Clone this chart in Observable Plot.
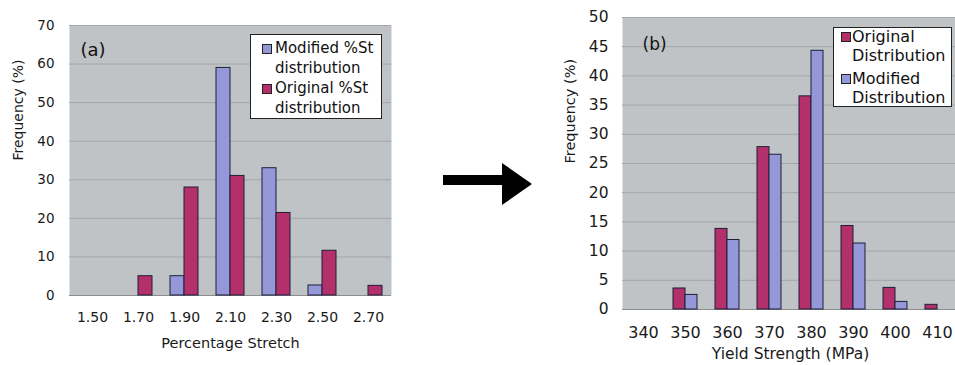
<!DOCTYPE html>
<html><head><meta charset="utf-8">
<script src="https://cdn.jsdelivr.net/npm/d3@7"></script>
<script src="https://cdn.jsdelivr.net/npm/@observablehq/plot@0.6"></script>
<style>
body{margin:0;background:#fff;font-family:"DejaVu Sans",sans-serif;}
#wrap{position:relative;width:955px;height:365px;overflow:hidden;background:#fff;}
#wrap > * {position:absolute;}
.legend{background:#fff;border:1px solid #222;box-sizing:border-box;color:#111;}
.legend .sw{position:absolute;width:10px;height:10px;border:1px solid #222;box-sizing:border-box;}
.legend .tx{position:absolute;white-space:pre;}
</style>
</head><body>
<div id="wrap"></div>
<script>
// ---- data ----
const stretchCats = ["1.50","1.70","1.90","2.10","2.30","2.50","2.70"];
const stretchModified = [0, 0, 5, 59, 33, 2.6, 0];
const stretchOriginal = [0, 5, 28, 31, 21.4, 11.6, 2.5];
const stretchTicks = [0,10,20,30,40,50,60,70];

const yieldCats = ["340","350","360","370","380","390","400","410"];
const yieldOriginal = [0, 3.6, 13.8, 27.8, 36.5, 14.3, 3.7, 0.8];
const yieldModified = [0, 2.5, 11.9, 26.5, 44.3, 11.3, 1.3, 0];
const yieldTicks = [0,5,10,15,20,25,30,35,40,45,50];

const BLUE = "#9497d8", RED = "#b3306a", BG = "#c0c3c6", GRID = "#a3a6a9", EDGE = "#1c1f3a";

const wrap = document.getElementById("wrap");

function rows(cats, vals){ return cats.map((c,i)=>({cat:c, v:vals[i]})).filter(d=>d.v>0); }

// ---- chart (a) ----
const A = Plot.plot({
  width: 420, height: 365,
  marginLeft: 69, marginRight: 29, marginTop: 25, marginBottom: 70,
  style: "font-family:'DejaVu Sans',sans-serif;font-size:13px;color:#1a1a1a;background:transparent",
  x: {domain: stretchCats, paddingInner: 0, paddingOuter: 0},
  y: {domain: [0,70]},
  marks: [
    Plot.frame({fill: BG, stroke: null}),
    Plot.gridY(stretchTicks, {stroke: GRID, strokeOpacity: 1}),
    Plot.ruleY([0], {stroke: "#8a8c8e"}),
    Plot.barY(rows(stretchCats, stretchModified), {x:"cat", y:"v", fill: BLUE, stroke: EDGE, strokeWidth: 1, insetLeft: 9, insetRight: 23}),
    Plot.barY(rows(stretchCats, stretchOriginal), {x:"cat", y:"v", fill: RED, stroke: EDGE, strokeWidth: 1, insetLeft: 23, insetRight: 9}),
    Plot.axisY(stretchTicks, {tickSize: 0, tickPadding: 15, label: null, fontSize: 13.5}),
    Plot.axisX({tickSize: 0, tickPadding: 17, label: null, fontSize: 14}),
    Plot.text(["Frequency (%)"], {frameAnchor: "left", dx: -51, rotate: -90, fontSize: 14, fill: "#1a1a1a"}),
    Plot.text(["Percentage Stretch"], {frameAnchor: "bottom", dy: 52, fontSize: 14.5, fill: "#1a1a1a"}),
    Plot.text(["(a)"], {frameAnchor: "top-left", textAnchor: "start", dx: 11, dy: 18, fontSize: 18, fill: "#111"})
  ]
});
A.style.left = "0px"; A.style.top = "0px";
wrap.appendChild(A);

// ---- chart (b) ----
const B = Plot.plot({
  width: 440, height: 365,
  marginLeft: 102, marginRight: 2, marginTop: 17, marginBottom: 56,
  style: "font-family:'DejaVu Sans',sans-serif;font-size:15px;color:#1a1a1a;background:transparent",
  x: {domain: yieldCats, paddingInner: 0, paddingOuter: 0},
  y: {domain: [0,50]},
  marks: [
    Plot.frame({fill: BG, stroke: null}),
    Plot.gridY(yieldTicks, {stroke: GRID, strokeOpacity: 1}),
    Plot.ruleY([0], {stroke: "#8a8c8e"}),
    Plot.barY(rows(yieldCats, yieldOriginal), {x:"cat", y:"v", fill: RED, stroke: EDGE, strokeWidth: 1, insetLeft: 9, insetRight: 21}),
    Plot.barY(rows(yieldCats, yieldModified), {x:"cat", y:"v", fill: BLUE, stroke: EDGE, strokeWidth: 1, insetLeft: 21, insetRight: 9}),
    Plot.axisY(yieldTicks, {tickSize: 0, tickPadding: 14, label: null, fontSize: 15.5}),
    Plot.axisX({tickSize: 0, tickPadding: 17, label: null, fontSize: 16}),
    Plot.text(["Frequency (%)"], {frameAnchor: "left", dx: -52, rotate: -90, fontSize: 14.5, fill: "#1a1a1a"}),
    Plot.text(["Yield Strength (MPa)"], {frameAnchor: "bottom", dy: 49, fontSize: 15.5, fill: "#1a1a1a"}),
    Plot.text(["(b)"], {frameAnchor: "top-left", textAnchor: "start", dx: 20, dy: 20, fontSize: 17, fill: "#111"})
  ]
});
B.style.left = "520px"; B.style.top = "0px";
wrap.appendChild(B);

// ---- legends ----
function legend(left, top, w, h, fs, lh, entries){
  const d = document.createElement("div");
  d.className = "legend";
  Object.assign(d.style, {left:left+"px", top:top+"px", width:w+"px", height:h+"px", fontSize: fs+"px", lineHeight: lh+"px"});
  for (const e of entries){
    const s = document.createElement("div"); s.className = "sw";
    Object.assign(s.style, {left:e.sx+"px", top:e.sy+"px", background:e.color});
    d.appendChild(s);
    const t = document.createElement("div"); t.className = "tx";
    Object.assign(t.style, {left:e.tx+"px", top:e.ty+"px"});
    t.textContent = e.text;
    d.appendChild(t);
  }
  wrap.appendChild(d);
}
legend(250, 34, 132, 85, 15, 20, [
  {color: BLUE, text: "Modified %St\ndistribution", sx: 11, sy: 9, tx: 24, ty: 3},
  {color: RED, text: "Original %St\ndistribution", sx: 11, sy: 49, tx: 24, ty: 43}
]);
legend(833, 27, 119, 80, 16, 19, [
  {color: RED, text: "Original\nDistribution", sx: 7, sy: 4, tx: 18, ty: -1},
  {color: BLUE, text: "Modified\nDistribution", sx: 7, sy: 46, tx: 18, ty: 41}
]);

// ---- arrow between panels ----
const ns = "http://www.w3.org/2000/svg";
const arr = document.createElementNS(ns, "svg");
arr.setAttribute("width", 100); arr.setAttribute("height", 60);
arr.style.left = "438px"; arr.style.top = "154px";
const poly = document.createElementNS(ns, "polygon");
poly.setAttribute("points", "5,21 64,21 64,9 94,30 64,51 64,31 5,31");
poly.setAttribute("fill", "#000");
arr.appendChild(poly);
wrap.appendChild(arr);
</script>
</body></html>
